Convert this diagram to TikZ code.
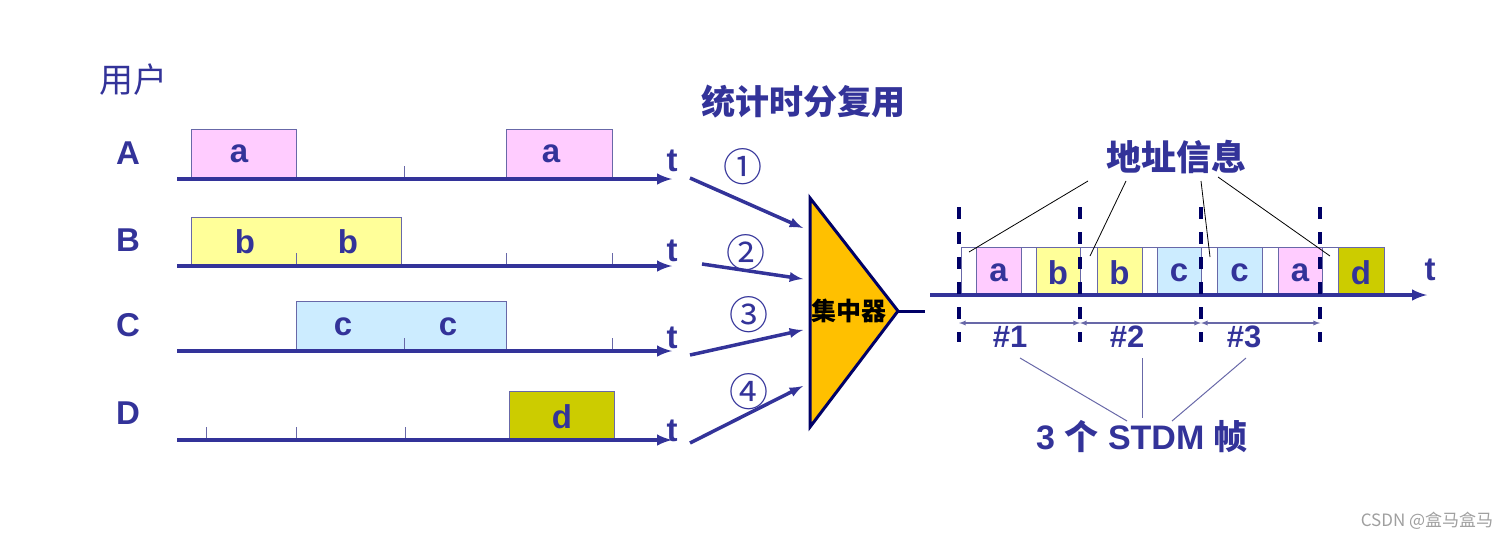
\documentclass[tikz,border=0pt]{standalone}
\usepackage{fontspec}
\setmainfont{Liberation Sans}
\newfontfamily\cjk{Noto Sans CJK SC}
\usetikzlibrary{arrows,positioning,calc}
\definecolor{navy}{HTML}{333399}
\definecolor{deepnavy}{HTML}{000066}
\definecolor{edgegray}{HTML}{6868A8}
\definecolor{pinkA}{HTML}{FFCCFF}
\definecolor{yellowB}{HTML}{FFFF99}
\definecolor{blueC}{HTML}{CCECFF}
\definecolor{oliveD}{HTML}{CCCC00}
\definecolor{gold}{HTML}{FFC000}

\begin{document}
\begin{tikzpicture}[x=1pt,y=-1pt,
big/.style={text=navy, inner sep=0pt, font=\bfseries\fontsize{33}{33}\selectfont},
han/.style={text=navy, inner sep=0pt, font=\cjk\fontsize{34}{34}\selectfont},
hanbold/.style={text=navy, inner sep=0pt, font=\cjk\bfseries\fontsize{35}{35}\selectfont},
packet/.style={draw=edgegray, line width=0.9pt},
tickmark/.style={edgegray, line width=0.9pt},
timeline/.style={navy, line width=4pt, -latex},
feed/.style={navy, line width=3.5pt, -latex},
frameline/.style={deepnavy, line width=4pt, dash pattern=on 12pt off 13pt},
span/.style={edgegray, line width=1.3pt, latex-latex},
pointer/.style={black, line width=0.8pt},
brace/.style={edgegray, line width=1pt}
]
\useasboundingbox (0,0) rectangle (1510,539);

% users and their time lines
\node[han] (user) at (133,80) {用户};
\foreach \nm/\y in {A/153, B/240, C/325, D/413}
  \node[big, font=\bfseries\fontsize{33}{33}\selectfont] (lbl\nm) at (128,\y) {\nm};

\foreach \xa/\ya/\xb/\yb/\col in {191/129/296/179/pinkA, 506/129/612/179/pinkA,
    191/217/401/266/yellowB, 296/301/506/351/blueC, 509/391/614/440/oliveD}
  \draw[packet, fill=\col] (\xa,\ya) rectangle (\xb,\yb);
\foreach \x/\y/\lab [count=\i] in {239/154/a, 551/154/a, 245/242/b, 348/242/b,
    343/327/c, 448/327/c, 562/417/d}
  \node[big] (u\i) at (\x,\y) {\lab};

\foreach \x/\y in {404/179, 296/266, 506/266, 612/266, 404/351, 612/351,
    206/440, 296/440, 405/440}
  \draw[tickmark] (\x,\y) -- ++(0,-13);

\foreach \nm/\y/\ty in {A/179/161, B/266/251, C/351/338, D/440/431} {
  \coordinate (start\nm) at (177,\y);
  \coordinate (end\nm) at (672,\y);
  \draw[timeline] (start\nm) -- (end\nm);
  \node[big] (t\nm) at (672,\ty) {t};
}

% concentrator
\node[hanbold, font=\cjk\bfseries\fontsize{34}{34}\selectfont] (title) at (803,102) {统计时分复用};
\coordinate (ctop) at (810,198);
\coordinate (cbot) at (810,427);
\coordinate (ctip) at (898,311);
\coordinate (cout) at (925,311);
\draw[deepnavy, line width=3pt, fill=gold, line join=miter] (ctop) -- (ctip) -- (cbot) -- cycle;
\draw[deepnavy, line width=3pt] (ctip) -- (cout);
\node[inner sep=0pt, font=\cjk\bfseries\fontsize{25}{25}\selectfont] (conc) at (849,311) {集中器};

\foreach \i/\xa/\ya/\yb/\cx/\cy/\sym in {1/690/178/228/743/167/①, 2/702/264/279/746/253/②,
    3/690/355/330/749/315/③, 4/690/443/386/749/392/④} {
  \coordinate (from\i) at (\xa,\ya);
  \coordinate (to\i) at (803,\yb);
  \draw[feed] (from\i) -- (to\i);
  \node[han, font=\cjk\fontsize{39}{39}\selectfont] (num\i) at (\cx,\cy) {\sym};
}

% STDM frames
\foreach \xa/\xb/\col/\lab [count=\i] in {961/976/white/{}, 976/1021/pinkA/a,
    1021/1036/white/{}, 1036/1080/yellowB/b, 1080/1097/white/{}, 1097/1142/yellowB/b,
    1142/1157/white/{}, 1157/1201/blueC/c, 1201/1217/white/{}, 1217/1262/blueC/c,
    1262/1278/white/{}, 1278/1322/pinkA/a, 1322/1338/white/{}, 1338/1384/oliveD/d} {
  \draw[packet, fill=\col] (\xa,247) rectangle (\xb,295);
  \node[big] (s\i) at ({(\xa+\xb)/2},273) {\lab};
}
\coordinate (rstart) at (930,295);
\coordinate (rend) at (1427,295);
\draw[timeline] (rstart) -- (rend);
\node[big] (tR) at (1430,270) {t};

\foreach \x [count=\i] in {959,1080,1201,1320} {
  \coordinate (dtop\i) at (\x,207);
  \coordinate (dbot\i) at (\x,342);
  \coordinate (dim\i) at (\x,323);
  \draw[frameline] (dtop\i) -- (dbot\i);
}
\foreach \i/\j/\lx in {1/2/1010, 2/3/1127, 3/4/1244} {
  \draw[span] (dim\i) -- (dim\j);
  \node[big, font=\bfseries\fontsize{31}{31}\selectfont] (frame\i) at (\lx,337) {\#\i};
}

\node[hanbold] (addr) at (1176,157) {地址信息};
\foreach \xa/\ya/\xb/\yb [count=\i] in {1088/181/969/252, 1126/181/1090/256,
    1201/181/1210/257, 1218/177/1330/256} {
  \coordinate (ap\i) at (\xa,\ya);
  \coordinate (aq\i) at (\xb,\yb);
  \draw[pointer] (ap\i) -- (aq\i);
}

\node[big, font=\bfseries\fontsize{34}{34}\selectfont] (stdm) at (1142,437) {3 {\cjk 个} STDM {\cjk 帧}};
\foreach \xa/\xb/\yb [count=\i] in {1020/1127/421, 1142/1142/418, 1246/1172/421} {
  \coordinate (fp\i) at (\xa,358);
  \coordinate (fq\i) at (\xb,\yb);
  \draw[brace] (fp\i) -- (fq\i);
}

\node[text=gray!75, inner sep=0pt, font=\cjk\fontsize{17}{17}\selectfont] (mark) at (1427,521) {CSDN @盒马盒马};
\end{tikzpicture}
\end{document}
